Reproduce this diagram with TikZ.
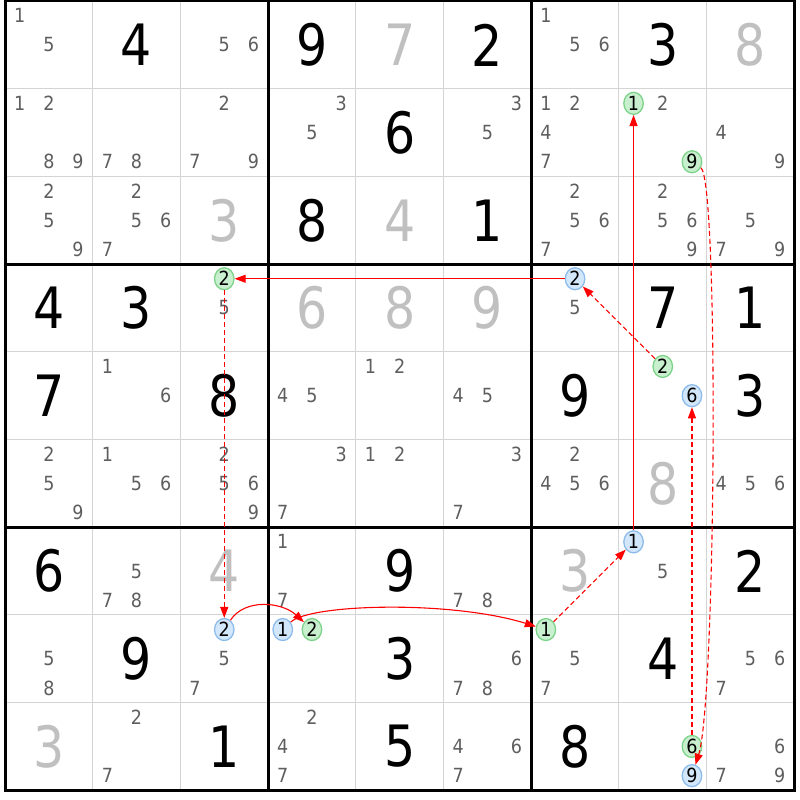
\documentclass[tikz,border=0pt]{standalone}
\usepackage{fontspec}
\setmainfont{DejaVu Sans}
\newfontfamily\bigfont{DejaVu Sans}[FakeStretch=0.86]
\newfontfamily\candfont{DejaVu Sans}[FakeStretch=0.9]
\usetikzlibrary{arrows.meta,shapes.geometric}
\definecolor{candgray}{HTML}{5E5E5E}
\definecolor{givengray}{HTML}{C0C0C0}
\definecolor{gridgray}{HTML}{D4D4D4}
\definecolor{gfill}{HTML}{C9F0CE}
\definecolor{gline}{HTML}{7DD38A}
\definecolor{bfill}{HTML}{D3E7FA}
\definecolor{bline}{HTML}{8DBCEC}
\definecolor{linkred}{HTML}{FF0000}
\newcommand\cnode[5]{%
  \pgfmathsetmacro\px{5+(#3+0.5)*87.7+(mod(#4-1,3)-1)*29.2}%
  \pgfmathsetmacro\py{1+(#2+0.5)*87.7+(int((#4-1)/3)-1)*29.2}%
  \node[#1] (#5) at (\px,\py) {#4};}
\newcommand\cands[3]{\foreach \d in {#3}{\cnode{cand}{#1}{#2}{\d}{k#1#2\d}}}
\newcommand\bigval[4]{\node[bigd,text=#4] (v#1#2) at ({5+(#2+0.5)*87.7},{1+(#1+0.5)*87.7}) {#3};}
\begin{document}
\begin{tikzpicture}[x=1pt,y=-1pt,
  cand/.style={text=candgray,font=\candfont\fontsize{19.5}{21}\selectfont,inner sep=0pt},
  bigd/.style={font=\bigfont\fontsize{57}{60}\selectfont,inner sep=0pt},
  oncand/.style={cand,text=black,ellipse,draw=gline,fill=gfill,line width=1.3pt,minimum width=19.5pt,minimum height=22pt},
  offcand/.style={cand,text=black,ellipse,draw=bline,fill=bfill,line width=1.3pt,minimum width=19.5pt,minimum height=22pt},
  thingrid/.style={draw=gridgray,line width=1pt},
  thickgrid/.style={draw=black,line width=3pt},
  strong/.style={draw=linkred,line width=1.1pt,-{Triangle[length=11pt,width=8pt]}},
  weak/.style={strong,dash pattern=on 5pt off 3pt}]
\useasboundingbox (0,0) rectangle (800,800);
\fill[white] (0,0) rectangle (800,800);
% grid
\foreach \i in {1,2,4,5,7,8}{
  \draw[thingrid] ({5+\i*87.7},1) -- ({5+\i*87.7},{1+9*87.7});
  \draw[thingrid] (5,{1+\i*87.7}) -- ({5+9*87.7},{1+\i*87.7});
}
\foreach \i in {3,6}{
  \draw[thickgrid] ({5+\i*87.7},1) -- ({5+\i*87.7},{1+9*87.7});
  \draw[thickgrid] (5,{1+\i*87.7}) -- ({5+9*87.7},{1+\i*87.7});
}
\draw[thickgrid] (5,1) rectangle ({5+9*87.7},{1+9*87.7});
% values
\bigval{0}{1}{4}{black}\bigval{0}{3}{9}{black}\bigval{0}{4}{7}{givengray}
\bigval{0}{5}{2}{black}\bigval{0}{7}{3}{black}\bigval{0}{8}{8}{givengray}
\bigval{1}{4}{6}{black}
\bigval{2}{2}{3}{givengray}\bigval{2}{3}{8}{black}\bigval{2}{4}{4}{givengray}\bigval{2}{5}{1}{black}
\bigval{3}{0}{4}{black}\bigval{3}{1}{3}{black}\bigval{3}{3}{6}{givengray}\bigval{3}{4}{8}{givengray}
\bigval{3}{5}{9}{givengray}\bigval{3}{7}{7}{black}\bigval{3}{8}{1}{black}
\bigval{4}{0}{7}{black}\bigval{4}{2}{8}{black}\bigval{4}{6}{9}{black}\bigval{4}{8}{3}{black}
\bigval{5}{7}{8}{givengray}
\bigval{6}{0}{6}{black}\bigval{6}{2}{4}{givengray}\bigval{6}{4}{9}{black}\bigval{6}{6}{3}{givengray}\bigval{6}{8}{2}{black}
\bigval{7}{1}{9}{black}\bigval{7}{4}{3}{black}\bigval{7}{7}{4}{black}
\bigval{8}{0}{3}{givengray}\bigval{8}{2}{1}{black}\bigval{8}{4}{5}{black}\bigval{8}{6}{8}{black}
% candidates
\cands{0}{0}{1,5}\cands{0}{2}{5,6}\cands{0}{6}{1,5,6}
\cands{1}{0}{1,2,8,9}\cands{1}{1}{7,8}\cands{1}{2}{2,7,9}\cands{1}{3}{3,5}\cands{1}{5}{3,5}
\cands{1}{6}{1,2,4,7}\cands{1}{7}{2}\cands{1}{8}{4,9}
\cands{2}{0}{2,5,9}\cands{2}{1}{2,5,6,7}\cands{2}{6}{2,5,6,7}\cands{2}{7}{2,5,6,9}\cands{2}{8}{5,7,9}
\cands{3}{2}{5}\cands{3}{6}{5}
\cands{4}{1}{1,6}\cands{4}{3}{4,5}\cands{4}{4}{1,2}\cands{4}{5}{4,5}
\cands{5}{0}{2,5,9}\cands{5}{1}{1,5,6}\cands{5}{2}{2,5,6,9}\cands{5}{3}{3,7}\cands{5}{4}{1,2}
\cands{5}{5}{3,7}\cands{5}{6}{2,4,5,6}\cands{5}{8}{4,5,6}
\cands{6}{1}{5,7,8}\cands{6}{3}{1,7}\cands{6}{5}{7,8}\cands{6}{7}{5}
\cands{7}{0}{5,8}\cands{7}{2}{5,7}\cands{7}{5}{6,7,8}\cands{7}{6}{5,7}\cands{7}{8}{5,6,7}
\cands{8}{1}{2,7}\cands{8}{3}{2,4,7}\cands{8}{5}{4,6,7}\cands{8}{8}{6,7,9}
% chain candidates
\cnode{oncand}{1}{7}{1}{g171}
\cnode{oncand}{1}{7}{9}{g179}
\cnode{oncand}{3}{2}{2}{g322}
\cnode{offcand}{3}{6}{2}{b362}
\cnode{oncand}{4}{7}{2}{g472}
\cnode{offcand}{4}{7}{6}{b476}
\cnode{offcand}{6}{7}{1}{b671}
\cnode{offcand}{7}{2}{2}{b722}
\cnode{offcand}{7}{3}{1}{b731}
\cnode{oncand}{7}{3}{2}{g732}
\cnode{oncand}{7}{6}{1}{g761}
\cnode{oncand}{8}{7}{6}{g876}
\cnode{offcand}{8}{7}{9}{b879}
% links
\draw[strong] (b671) -- (g171);
\draw[weak] (g179) .. controls (719,180) and (716,700) .. (b879);
\draw[weak] (g472) -- (b362);
\draw[strong] (b362) -- (g322);
\draw[weak] (g322) -- (b722);
\draw[strong] (b722) .. controls (245,598) and (282,602) .. (g732);
\draw[strong] (b731) .. controls (310,604) and (450,600) .. (g761);
\draw[weak] (g761) -- (b671);
\draw[weak] (g876) -- (b476);
\end{tikzpicture}
\end{document}
